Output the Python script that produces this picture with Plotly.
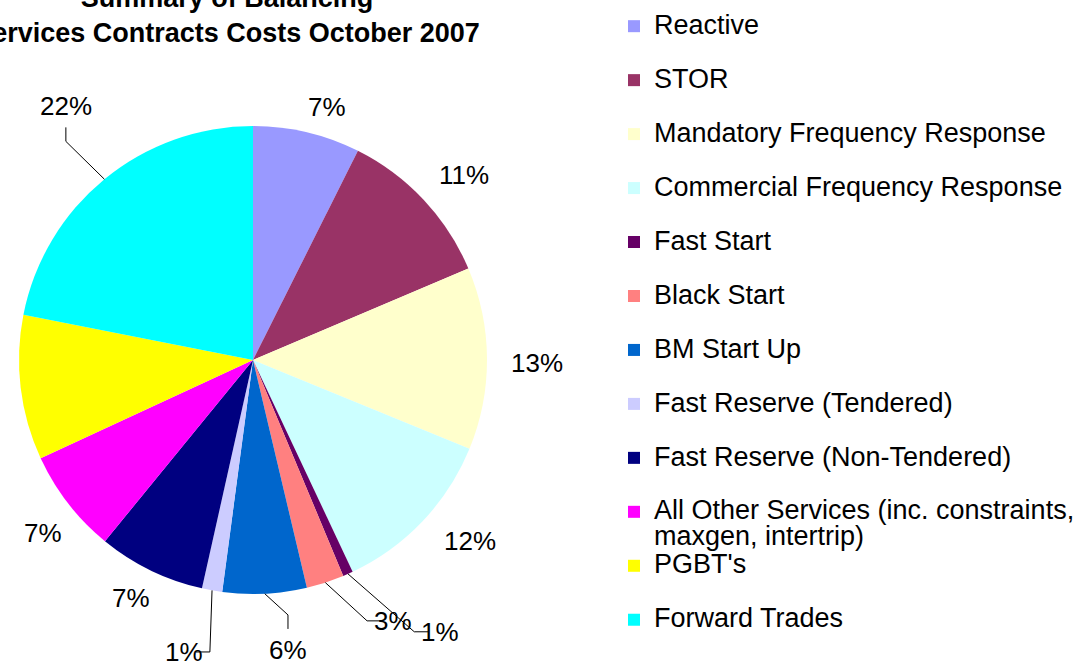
import math
import plotly.graph_objects as go

# ---------------- data ----------------
categories = [
    "Reactive",
    "STOR",
    "Mandatory Frequency Response",
    "Commercial Frequency Response",
    "Fast Start",
    "Black Start",
    "BM Start Up",
    "Fast Reserve (Tendered)",
    "Fast Reserve (Non-Tendered)",
    "All Other Services (inc. constraints, maxgen, intertrip)",
    "PGBT's",
    "Forward Trades",
]
shares = [7.4, 11.2, 12.6, 11.8, 0.7, 2.6, 5.8, 1.4, 7.4, 7.2, 10.0, 21.9]
show_label = [True, True, True, True, True, True, True, True, True, True, False, True]
colors = ["#9999FF", "#993366", "#FFFFCC", "#CCFFFF", "#660066", "#FF8080",
          "#0066CC", "#CCCCFF", "#000080", "#FF00FF", "#FFFF00", "#00FFFF"]
title_text = "Summary of Balancing<br>Services Contracts Costs October 2007"

# ---------------- style / layout ----------------
FONT = "Liberation Sans, Arial, sans-serif"
BIG = 26
LEG = 27
W, H = 1080, 661
cx, cy, r = 253, 360, 234
# label placement (radial distance factor, angular offset in degrees, leader style)
label_dist = [1.127, 1.20, 1.214, 1.208, 1.41, 1.265, 1.248, 1.282, 1.143, 1.163, 1.2, 1.347]
label_dang = [3, 2, 1, -3.8, -10.6, -10.2, -4, 3.2, 1.2, -1.7, 0, 3]
leader = [None, None, None, None, "h", "h", "v", "h", None, None, None, "v"]


def legend_label(name, pad):
    lines = [name]
    if len(name) > 40:
        cut = name.rfind(", ", 0, 40)
        lines = [name[:cut + 1], name[cut + 2:]]
    spans = [f'<span style="font-size:{LEG}px">{ln}</span>' for ln in lines]
    if len(spans) == 1 and pad:
        spans.append("&nbsp;")
    return "<br>".join(spans)


labels = [legend_label(c, i < len(categories) - 1) for i, c in enumerate(categories)]

fig = go.Figure(go.Pie(
    labels=labels,
    values=shares,
    sort=False,
    direction="clockwise",
    rotation=0,
    marker=dict(colors=colors, line=dict(width=0)),
    textinfo="none",
    domain=dict(x=[(cx - r) / W, (cx + r) / W],
                y=[(H - cy - r) / H, (H - cy + r) / H]),
    hoverinfo="label+percent",
))


def px2paper(x, y):
    return x / W, 1 - y / H


def polar(angle_deg, dist):
    a = math.radians(angle_deg)
    return cx + dist * math.sin(a), cy - dist * math.cos(a)


total = sum(shares)
annotations = []
shapes = []
cum = 0.0
for i, v in enumerate(shares):
    mid = (cum + v / 2) / total * 360.0
    cum += v
    if not show_label[i]:
        continue
    pct = f"{round(v / total * 100)}%"
    lx, ly = polar(mid + label_dang[i], r * label_dist[i])
    px, py = px2paper(lx, ly)
    annotations.append(dict(
        x=px, y=py, xref="paper", yref="paper", text=pct, showarrow=False,
        xanchor="center", yanchor="middle",
        font=dict(family=FONT, size=BIG, color="black"),
    ))
    if leader[i]:
        sx, sy = polar(mid, r)
        half_w = len(pct) * 0.3 * BIG / 2 + 4
        if leader[i] == "h":
            sgn = -1 if lx > cx else 1
            ex1, ey1 = lx + sgn * half_w, ly
            ex2, ey2 = ex1 + sgn * 14, ly
        else:
            sgn = -1 if ly > cy else 1
            ex1, ey1 = lx, ly + sgn * 21
            ex2, ey2 = lx, ey1 + sgn * 14
        pts = [px2paper(sx, sy), px2paper(ex2, ey2), px2paper(ex1, ey1)]
        path = "M {} {} L {} {} L {} {}".format(
            pts[0][0], pts[0][1], pts[1][0], pts[1][1], pts[2][0], pts[2][1])
        shapes.append(dict(type="path", path=path, xref="paper", yref="paper",
                           line=dict(color="black", width=1)))

fig.update_layout(
    width=W, height=H,
    margin=dict(l=0, r=0, t=0, b=0),
    paper_bgcolor="white",
    plot_bgcolor="white",
    title=dict(
        text=f"<b>{title_text}</b>",
        font=dict(family=FONT, size=27, color="black"),
        x=227 / W, xanchor="center",
        yref="container", y=1 - 7 / H, yanchor="middle",
    ),
    legend=dict(
        x=0.5687, xanchor="left", y=0.9895, yanchor="top",
        font=dict(family=FONT, size=19.6, color="black"),
        valign="top",
        bgcolor="rgba(0,0,0,0)",
    ),
    annotations=annotations,
    shapes=shapes,
)

fig.write_html(
    "out.html",
    config={"displayModeBar": False},
    post_script="document.body.style.margin='0';document.body.style.overflow='hidden';",
)
